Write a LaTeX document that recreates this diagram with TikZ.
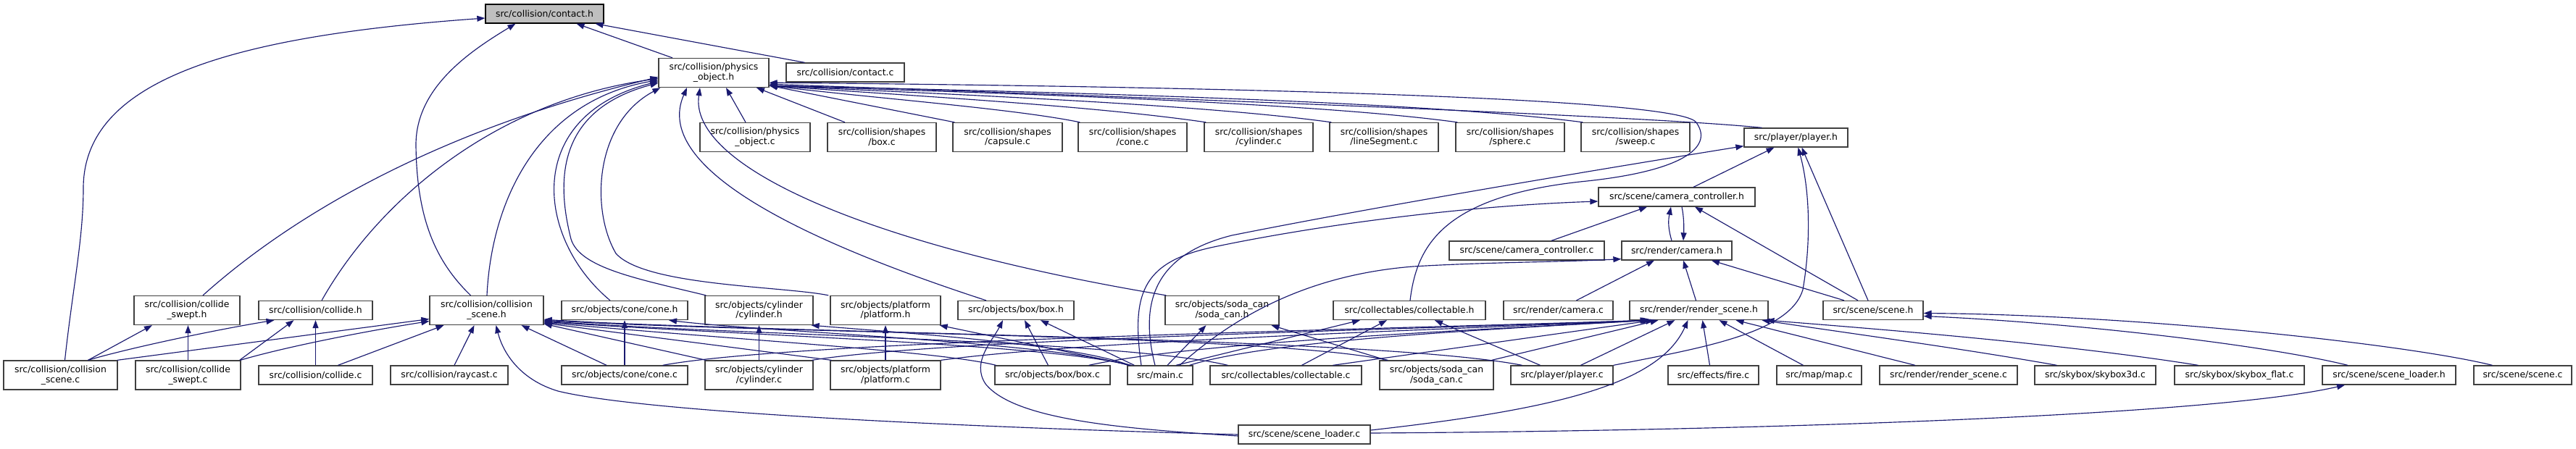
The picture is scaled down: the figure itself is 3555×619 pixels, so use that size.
\documentclass[tikz,border=0pt]{standalone}
\usepackage{fontspec}
\setmainfont{DejaVu Sans}
\usetikzlibrary{arrows.meta}
\definecolor{navy}{RGB}{25,25,112}
\definecolor{rootfill}{RGB}{191,191,191}
\begin{document}
\begin{tikzpicture}[x=1pt,y=-1pt,
  nb/.style={draw=black!75, line width=1.3pt, fill=white, inner sep=0pt, align=center,
             font=\fontsize{12.4}{13.8}\selectfont, minimum height=26pt},
  nb2/.style={nb, minimum height=40pt},
  dep/.style={draw=navy, line width=1.15pt, -{Triangle[length=11pt,width=8pt]}}]
\useasboundingbox (0,0) rectangle (3555,619);
\fill[white] (0,0) rectangle (3555,619);
% ---------- nodes ----------
\node[nb, fill=rootfill, draw=black, minimum width=163pt] (ch) at (751.5,19) {src/collision/contact.h};
\node[nb2, minimum width=152pt] (poh) at (985,100.5) {src/collision/physics\\\_object.h};
\node[nb, minimum width=163pt] (cc) at (1166.5,100) {src/collision/contact.c};
\node[nb2, minimum width=152pt] (poc) at (1042,189.5) {src/collision/physics\\\_object.c};
\node[nb2, minimum width=150pt] (sbox) at (1217,189.5) {src/collision/shapes\\/box.c};
\node[nb2, minimum width=151pt] (scap) at (1390.5,189.5) {src/collision/shapes\\/capsule.c};
\node[nb2, minimum width=150pt] (scone) at (1563,189.5) {src/collision/shapes\\/cone.c};
\node[nb2, minimum width=150pt] (scyl) at (1737,189.5) {src/collision/shapes\\/cylinder.c};
\node[nb2, minimum width=150pt] (sline) at (1910,189.5) {src/collision/shapes\\/lineSegment.c};
\node[nb2, minimum width=150pt] (ssph) at (2084,189.5) {src/collision/shapes\\/sphere.c};
\node[nb2, minimum width=150pt] (sswp) at (2257,189.5) {src/collision/shapes\\/sweep.c};
\node[nb, minimum width=143pt] (plh) at (2478.5,190) {src/player/player.h};
\node[nb, minimum width=216pt] (cch) at (2314,272) {src/scene/camera\_controller.h};
\node[nb, minimum width=214pt] (ccc) at (2107,346) {src/scene/camera\_controller.c};
\node[nb, minimum width=152pt] (camh) at (2314,346) {src/render/camera.h};
\node[nb2, minimum width=146pt] (cswh) at (258,428.5) {src/collision/collide\\\_swept.h};
\node[nb, minimum width=157pt] (colh) at (435.5,428.5) {src/collision/collide.h};
\node[nb2, minimum width=157pt] (csh) at (671.5,428.5) {src/collision/collision\\\_scene.h};
\node[nb, minimum width=174pt] (coneh) at (862,428.5) {src/objects/cone/cone.h};
\node[nb2, minimum width=149pt] (cylh) at (1047.5,428.5) {src/objects/cylinder\\/cylinder.h};
\node[nb2, minimum width=152pt] (plath) at (1222,428.5) {src/objects/platform\\/platform.h};
\node[nb, minimum width=160pt] (boxh) at (1402,428.5) {src/objects/box/box.h};
\node[nb2, minimum width=157pt] (sodah) at (1686.5,428.5) {src/objects/soda\_can\\/soda\_can.h};
\node[nb, minimum width=210pt] (collh) at (1945,428.5) {src/collectables/collectable.h};
\node[nb, minimum width=151pt] (camc) at (2150.5,428.5) {src/render/camera.c};
\node[nb, minimum width=191pt] (rsh) at (2344.5,428.5) {src/render/render\_scene.h};
\node[nb, minimum width=138pt] (sch) at (2585,428.5) {src/scene/scene.h};
\node[nb2, minimum width=157pt] (csc) at (83.5,518) {src/collision/collision\\\_scene.c};
\node[nb2, minimum width=145pt] (cswc) at (259.5,518) {src/collision/collide\\\_swept.c};
\node[nb, minimum width=157pt] (colc) at (435.5,518) {src/collision/collide.c};
\node[nb, minimum width=162pt] (rayc) at (620,518) {src/collision/raycast.c};
\node[nb, minimum width=174pt] (conec) at (862,518) {src/objects/cone/cone.c};
\node[nb2, minimum width=149pt] (cylc) at (1047.5,518) {src/objects/cylinder\\/cylinder.c};
\node[nb2, minimum width=152pt] (platc) at (1222,518) {src/objects/platform\\/platform.c};
\node[nb, minimum width=159pt] (boxc) at (1452.5,518) {src/objects/box/box.c};
\node[nb, minimum width=90pt] (mainc) at (1601,518) {src/main.c};
\node[nb, minimum width=209pt] (collc) at (1774.5,518) {src/collectables/collectable.c};
\node[nb2, minimum width=157pt] (sodac) at (1982.5,518) {src/objects/soda\_can\\/soda\_can.c};
\node[nb, minimum width=141pt] (plc) at (2155.5,518) {src/player/player.c};
\node[nb, minimum width=125pt] (firec) at (2364.5,518) {src/effects/fire.c};
\node[nb, minimum width=117pt] (mapc) at (2510.5,518) {src/map/map.c};
\node[nb, minimum width=190pt] (rsc) at (2689,518) {src/render/render\_scene.c};
\node[nb, minimum width=167pt] (sky3) at (2891.5,518) {src/skybox/skybox3d.c};
\node[nb, minimum width=179pt] (skyf) at (3090.5,518) {src/skybox/skybox\_flat.c};
\node[nb, minimum width=184pt] (slh) at (3297,518) {src/scene/scene\_loader.h};
\node[nb, minimum width=135pt] (scc) at (3481.5,518) {src/scene/scene.c};
\node[nb, minimum width=182pt] (slc) at (1800,600) {src/scene/scene\_loader.c};
% ---------- edges ----------
% contact.h
\draw[dep] ([xshift=-57pt]poh.north) -- ([xshift=44pt]ch.south);
\draw[dep] ([xshift=-56pt]cc.north) -- ([xshift=70pt]ch.south);
\draw[dep] ([xshift=-22pt]csh.north) .. controls (600,360) and (575,300) .. (574,200) .. controls (574,120) and (650,70) .. ([xshift=-40pt]ch.south);
\draw[dep] ([xshift=6pt]csc.north) .. controls (100,400) and (115,330) .. (115,260) .. controls (115,110) and (320,50) .. ([yshift=-6pt]ch.west);
% physics_object.h
\draw[dep] ([xshift=-13pt]poc.north) -- ([xshift=17pt]poh.south);
\draw[dep] ([xshift=-51pt]sbox.north) -- ([xshift=59pt]poh.south);
\draw[dep] ([xshift=3pt]scap.north west) -- ([yshift=3pt]poh.south east);
\draw[dep] ([xshift=3pt]scone.north west) .. controls (1400,150) and (1200,135) .. ([yshift=3pt]poh.south east);
\draw[dep] ([xshift=3pt]scyl.north west) .. controls (1500,145) and (1250,132) .. ([yshift=3pt]poh.south east);
\draw[dep] ([xshift=3pt]sline.north west) .. controls (1650,143) and (1300,130) .. ([yshift=3pt]poh.south east);
\draw[dep] ([xshift=3pt]ssph.north west) .. controls (1800,140) and (1350,128) .. ([yshift=3pt]poh.south east);
\draw[dep] ([xshift=3pt]sswp.north west) .. controls (1950,138) and (1400,126) .. ([yshift=3pt]poh.south east);
\draw[dep] ([xshift=25pt]plh.north west) .. controls (2250,158) and (1450,130) .. ([yshift=5pt]poh.south east);
\draw[dep] ([xshift=1pt]collh.north) .. controls (1955,340) and (1990,270) .. (2190,250) .. controls (2330,235) and (2365,200) .. (2340,168) .. controls (2300,130) and (1500,118) .. ([yshift=7pt]poh.south east);
\draw[dep] ([xshift=22pt]cswh.north) .. controls (400,300) and (600,180) .. ([yshift=-6pt]poh.west);
\draw[dep] ([xshift=8.5pt]colh.north) .. controls (520,280) and (680,140) .. ([yshift=-8pt]poh.west);
\draw[dep] ([xshift=0.5pt]csh.north) .. controls (678,280) and (740,140) .. ([yshift=-10pt]poh.west);
\draw[dep] ([xshift=-20pt]coneh.north) .. controls (740,330) and (720,160) .. ([yshift=-12pt]poh.west);
\draw[dep] ([xshift=2pt]cylh.north west) .. controls (880,385) and (800,370) .. (788,330) .. controls (765,240) and (775,150) .. ([yshift=-14pt]poh.west);
\draw[dep] ([xshift=-2pt]plath.north west) .. controls (1080,395) and (890,395) .. (850,350) .. controls (815,290) and (820,170) .. ([xshift=3pt]poh.south west);
\draw[dep] ([xshift=-41pt]boxh.north) .. controls (1100,330) and (900,230) .. ([xshift=-37pt]poh.south);
\draw[dep] ([xshift=2pt]sodah.north west) .. controls (1200,340) and (950,230) .. ([xshift=-19pt]poh.south);
% camera_controller.h
\draw[dep] ([xshift=34pt]ccc.north) -- ([xshift=-41pt]cch.south);
\draw[dep] ([xshift=-7pt]camh.north) .. controls (2302,315) and (2302,305) .. ([xshift=-8pt]cch.south);
\draw[dep] ([xshift=7pt]cch.south) .. controls (2324,300) and (2324,315) .. ([xshift=9pt]camh.north);
\draw[dep] ([xshift=-21pt]sch.north) -- ([xshift=25pt]cch.south);
\draw[dep] ([xshift=-26pt]mainc.north) .. controls (1560,400) and (1580,360) .. (1680,340) .. controls (1800,315) and (2000,285) .. ([yshift=-6pt]cch.west);
% player.h
\draw[dep] ([xshift=23pt]cch.north) -- ([xshift=-30pt]plh.south);
\draw[dep] ([xshift=-7pt]mainc.north) .. controls (1570,410) and (1600,350) .. (1700,325) .. controls (1900,285) and (2200,235) .. ([yshift=2pt]plh.south west);
\draw[dep] ([xshift=-7pt]sch.north) -- ([xshift=8pt]plh.south);
\draw[dep] (plc.north east) .. controls (2350,480) and (2470,460) .. (2488,400) .. controls (2500,330) and (2497,260) .. ([xshift=3pt]plh.south);
% camera.h
\draw[dep] ([xshift=27pt]mainc.north) .. controls (1700,440) and (1800,380) .. (1950,368) .. controls (2050,362) and (2150,362) .. ([yshift=2pt]camh.south west);
\draw[dep] ([xshift=25pt]camc.north) -- ([xshift=-31pt]camh.south);
\draw[dep] ([xshift=-4pt]rsh.north) -- ([xshift=9pt]camh.south);
\draw[dep] ([xshift=-40pt]sch.north) -- ([xshift=48pt]camh.south);
% scene.h, scene_loader.h
\draw[dep] ([xshift=-57pt]slh.north) .. controls (3120,475) and (2850,445) .. ([yshift=-8pt]sch.east);
\draw[dep] ([xshift=-42pt]scc.north) .. controls (3320,475) and (2950,435) .. ([yshift=-4pt]sch.east);
\draw[dep] ([yshift=2pt]slc.east) .. controls (2400,595) and (3050,575) .. ([xshift=-61pt]slh.south);
% scene_loader.c
\draw[dep] ([yshift=6pt]slc.east) .. controls (2150,565) and (2290,530) .. ([xshift=-15pt]rsh.south);
\draw[dep] (slc.west) .. controls (1400,592) and (900,572) .. (770,540) .. controls (720,525) and (695,490) .. ([xshift=13pt]csh.south);
\draw[dep] ([yshift=-2pt]slc.west) .. controls (1550,592) and (1400,580) .. (1360,530) .. controls (1340,500) and (1370,470) .. ([xshift=-18pt]boxh.south);
% render_scene.h
\draw[dep] ([xshift=-5pt]firec.north) -- ([xshift=5pt]rsh.south);
\draw[dep] ([xshift=-22pt]mapc.north) -- ([xshift=28pt]rsh.south);
\draw[dep] ([xshift=-46pt]rsc.north) -- ([xshift=51pt]rsh.south);
\draw[dep] ([xshift=-53pt]sky3.north) .. controls (2700,480) and (2550,460) .. ([xshift=87pt]rsh.south);
\draw[dep] ([xshift=-57pt]skyf.north) .. controls (2850,475) and (2600,455) .. ([xshift=93pt]rsh.south);
\draw[dep] ([xshift=26pt]plc.north) -- ([xshift=-33pt]rsh.south);
\draw[dep] ([xshift=-35pt]conec.north east) .. controls (1100,470) and (1900,455) .. ([xshift=-70pt]rsh.south);
\draw[dep] ([xshift=-2pt]cylc.north east) .. controls (1300,468) and (1950,455) .. ([xshift=-69pt]rsh.south);
\draw[dep] (platc.north east) .. controls (1500,470) and (2000,455) .. ([xshift=-68pt]rsh.south);
\draw[dep] ([xshift=-30pt]boxc.north east) .. controls (1650,472) and (2050,455) .. ([xshift=-67pt]rsh.south);
\draw[dep] ([xshift=-5pt]mainc.north east) .. controls (1750,470) and (2050,455) .. ([xshift=-66pt]rsh.south);
\draw[dep] ([xshift=65pt]collc.north) -- ([xshift=-62pt]rsh.south);
\draw[dep] ([xshift=-3pt]sodac.north east) -- ([xshift=-56pt]rsh.south);
% collectable.h
\draw[dep] ([xshift=-30pt]plc.north) -- ([xshift=35pt]collh.south);
\draw[dep] ([xshift=22pt]mainc.north) -- ([xshift=-68pt]collh.south);
\draw[dep] ([xshift=22pt]collc.north) -- ([xshift=-31pt]collh.south);
% soda_can.h, box.h, platform.h, cylinder.h, cone.h
\draw[dep] ([xshift=10pt]mainc.north) -- ([xshift=-22pt]sodah.south);
\draw[dep] ([xshift=10pt]sodac.north west) -- ([xshift=68pt]sodah.south);
\draw[dep] ([xshift=-6pt]boxc.north) -- ([xshift=12pt]boxh.south);
\draw[dep] ([xshift=10pt]mainc.north west) -- ([xshift=34pt]boxh.south);
\draw[dep] (platc.north) -- (plath.south);
\draw[dep] ([xshift=6pt]mainc.north west) -- ([xshift=-2pt]plath.south east);
\draw[dep] (cylc.north) -- (cylh.south);
\draw[dep] ([xshift=4pt]mainc.north west) .. controls (1480,475) and (1250,460) .. ([xshift=-3pt]cylh.south east);
\draw[dep] (conec.north) -- (coneh.south);
\draw[dep] ([xshift=2pt]mainc.north west) .. controls (1450,472) and (1050,458) .. ([xshift=61pt]coneh.south);
% collision_scene.h
\draw[dep] ([xshift=-1pt]csc.north east) -- ([yshift=-12pt]csh.west);
\draw[dep] ([xshift=-1pt]cswc.north east) .. controls (390,480) and (500,458) .. ([yshift=-15pt]csh.west);
\draw[dep] ([xshift=31pt]colc.north) -- ([xshift=-59pt]csh.south);
\draw[dep] ([xshift=7pt]rayc.north) -- ([xshift=-17pt]csh.south);
\draw[dep] ([xshift=-25pt]conec.north) -- ([xshift=48pt]csh.south);
\draw[dep] ([xshift=2pt]cylc.north west) -- ([yshift=2pt]csh.south east);
\draw[dep] ([xshift=2pt]platc.north west) -- ([yshift=3pt]csh.south east);
\draw[dep] ([xshift=2pt]boxc.north west) .. controls (1300,485) and (1000,468) .. ([yshift=4pt]csh.south east);
\draw[dep] ([xshift=3pt]mainc.north west) .. controls (1450,475) and (1000,462) .. ([yshift=5pt]csh.south east);
\draw[dep] ([xshift=25pt]collc.north west) .. controls (1550,470) and (1000,462) .. ([yshift=6pt]csh.south east);
\draw[dep] ([xshift=12pt]sodac.north west) .. controls (1750,462) and (1050,460) .. ([yshift=7pt]csh.south east);
\draw[dep] ([xshift=-55pt]plc.north) .. controls (1900,465) and (1050,460) .. ([yshift=8pt]csh.south east);
% collide.h, collide_swept.h
\draw[dep] (colc.north) -- (colh.south);
\draw[dep] ([xshift=-2pt]cswc.north east) -- ([xshift=-30pt]colh.south);
\draw[dep] ([xshift=38pt]csc.north) .. controls (180,480) and (300,455) .. ([xshift=-57pt]colh.south);
\draw[dep] ([xshift=38pt]csc.north) -- ([xshift=-48pt]cswh.south);
\draw[dep] (cswc.north) -- ([xshift=1.5pt]cswh.south);
\end{tikzpicture}
\end{document}
